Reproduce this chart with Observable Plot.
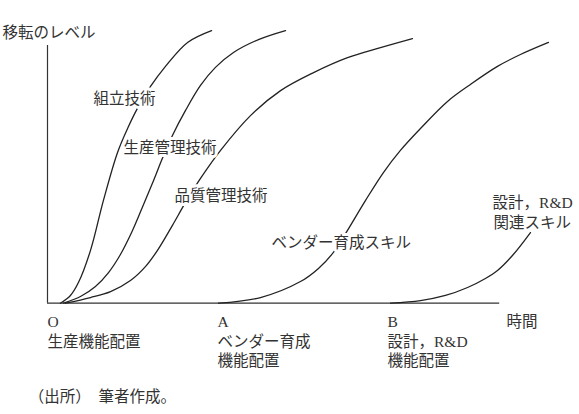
<!DOCTYPE html>
<html><head><meta charset="utf-8">
<script src="https://cdn.jsdelivr.net/npm/d3@7"></script>
<script src="https://cdn.jsdelivr.net/npm/@observablehq/plot@0.6"></script>
<style>body{margin:0;background:#fff}</style>
</head><body><div id="chart"></div>
<script>
// time units: O = 0, A = 10, B = 20 ; level units: axis top = 100
const seriesNames = ["組立技術", "生産管理技術", "品質管理技術", "ベンダー育成スキル", "設計，R&D関連スキル"];
const assembly = [[0.76,0],[1.35,3.0],[1.82,8.0],[2.53,20.5],[3.29,39.9],[4.12,58.5],[4.71,67.8],[5.29,75.6],[6.06,84.1],[6.94,91.9],[8.24,101.2],[9.65,105.8]];
const prodMgmt = [[0.94,0],[1.94,2.6],[2.82,6.5],[3.59,11.9],[4.29,18.9],[5.0,28.2],[5.65,38.3],[6.24,47.6],[6.76,56.2],[7.35,65.1],[8.12,74.8],[9.0,84.5],[9.88,91.5],[10.94,97.3],[12.41,102.3],[14.0,105.8]];
const qualMgmt = [[1.06,0],[2.53,2.2],[3.71,4.5],[4.88,8.8],[5.76,14.2],[6.47,20.5],[7.35,30.2],[8.12,39.1],[9.0,48.4],[10.18,59.3],[11.94,72.8],[13.71,82.5],[15.65,89.5],[17.65,95.3],[19.59,99.2],[21.47,102.7]];
const vendor = [[10.06,0],[12.53,2.2],[14.88,8.4],[15.94,13.5],[16.82,19.7],[17.53,27.0],[18.71,39.9],[19.76,50.7],[20.76,59.3],[21.94,67.8],[23.53,78.3],[24.88,84.9],[26.47,91.9],[27.82,96.5],[29.47,101.2]];
const design = [[20.18,0],[21.94,1.0],[23.41,3.0],[24.71,6.1],[25.76,9.6],[26.47,12.7],[27.35,18.5],[28.41,27.4]];
const seriesValues = [assembly, prodMgmt, qualMgmt, vendor, design];

// curve labels: [text, time, level]
const curveLabels = [
  ["組立技術", 2.71, 79.4],
  ["生産管理技術", 4.47, 60.4],
  ["品質管理技術", 7.47, 41.4],
  ["ベンダー育成スキル", 13.18, 23.2],
  ["設計，R&D", 26.18, 38.7],
  ["関連スキル", 26.24, 31.3]
];
// time points on the axis
const tickTimes = [0, 10, 20];
const tickNames = ["O", "A", "B"];
const tickLine1 = ["生産機能配置", "ベンダー育成", "設計，R&D"];
const tickLine2 = ["", "機能配置", "機能配置"];
const yTitle = ["移転のレベル", -2.65, 105.0];
const xTitle = ["時間", 27.0, -7.5];
const caption = ["（出所）　筆者作成。", -1.1, -36.6];
const rowLevels = [-7.5, -15.1, -22.6];
const axisEnd = {time: 26.6, level: 100};

const rows = [];
seriesValues.forEach((s, i) => s.forEach(([t, l]) => rows.push({series: seriesNames[i], t, level: l})));

const tickRows = [];
tickTimes.forEach((t, i) => {
  tickRows.push({text: tickNames[i], t, level: rowLevels[0]});
  tickRows.push({text: tickLine1[i], t, level: rowLevels[1]});
  if (tickLine2[i]) tickRows.push({text: tickLine2[i], t, level: rowLevels[2]});
});
const otherText = [...curveLabels, yTitle, xTitle, caption].map(([text, t, level]) => ({text, t, level}));

const font = "'Liberation Serif', 'Noto Sans CJK JP', serif";
const chart = Plot.plot({
  width: 579, height: 414,
  marginLeft: 47, marginRight: 22, marginTop: 45, marginBottom: 111.3,
  x: {domain: [0, 30], axis: null},
  y: {domain: [0, 100], axis: null},
  style: {background: "#fff", fontFamily: font},
  marks: [
    Plot.ruleX([0], {y1: 0, y2: axisEnd.level, stroke: "#333", strokeWidth: 1.2}),
    Plot.ruleY([0], {x1: 0, x2: axisEnd.time, stroke: "#333", strokeWidth: 1.2}),
    Plot.line(rows, {x: "t", y: "level", z: "series", curve: "catmull-rom", stroke: "#222", strokeWidth: 1.3}),
    Plot.text(otherText.slice(0, curveLabels.length), {x: "t", y: "level", text: "text", textAnchor: "start", lineAnchor: "middle",
      fontSize: 15.5, fill: "#333", stroke: "white", strokeWidth: 6, fontFamily: font}),
    Plot.text(otherText.slice(curveLabels.length), {x: "t", y: "level", text: "text", textAnchor: "start", lineAnchor: "middle",
      fontSize: 15.5, fill: "#333", fontFamily: font}),
    Plot.text(tickRows, {x: "t", y: "level", text: "text", textAnchor: "start", lineAnchor: "middle",
      fontSize: 15.5, fill: "#333", fontFamily: font})
  ]
});
document.getElementById("chart").appendChild(chart);
</script>
</body></html>
